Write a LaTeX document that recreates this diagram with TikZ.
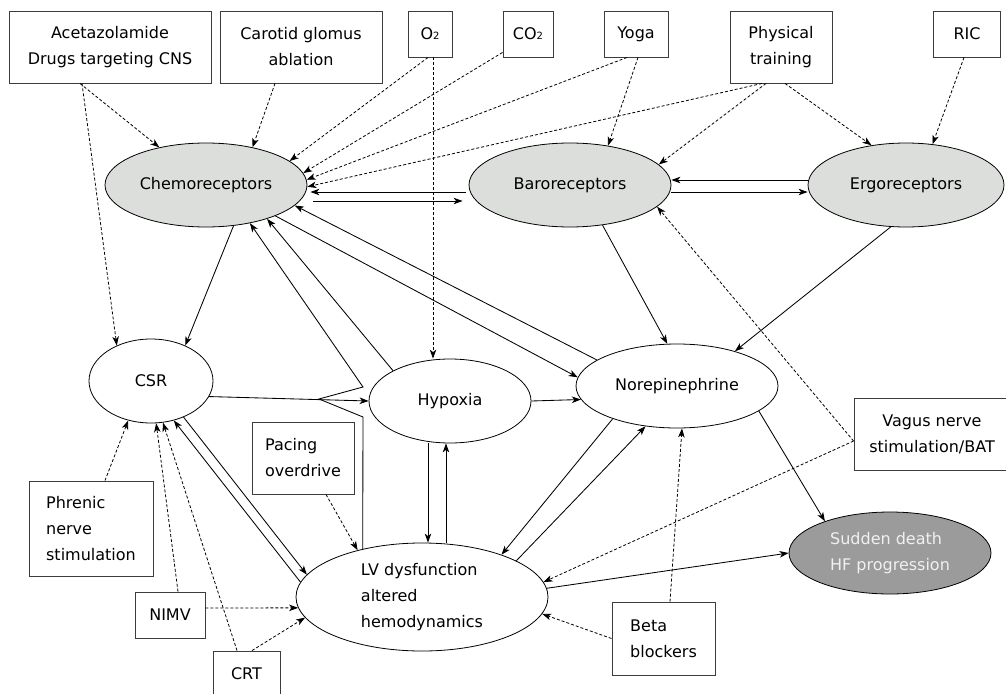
\documentclass[tikz,border=0pt]{standalone}
\usepackage{fontspec}
\setmainfont{DejaVu Sans}
\usetikzlibrary{shapes.geometric,arrows.meta,calc}
\definecolor{boxc}{RGB}{60,60,60}
\definecolor{recepc}{RGB}{220,222,220}
\definecolor{sdfill}{RGB}{155,155,155}
\definecolor{sdtext}{RGB}{240,240,240}
\newcommand\dgfont{\fontsize{16}{26}\selectfont}
\newcommand\subtwo{{\fontsize{10}{10}\selectfont 2}}
\tikzset{
  box/.style={draw=boxc, line width=0.9pt, rectangle, inner sep=0pt, align=center, font=\dgfont},
  ell/.style={draw=black, line width=0.8pt, ellipse, inner sep=0pt, align=center, font=\dgfont},
  recep/.style={ell, fill=recepc},
  tipst/.style={-{Stealth[length=9pt,width=6.5pt,inset=2.5pt]}},
  dsh/.style={line width=0.8pt, dash pattern=on 3pt off 2pt, tipst},
  sol/.style={line width=0.85pt, tipst}
}
\begin{document}
\begin{tikzpicture}[x=1pt,y=-1pt]
\useasboundingbox (0,0) rectangle (1006,693);
\fill[white] (0,0) rectangle (1006,693);
\clip (0,0) rectangle (1006,693);

% top boxes
\node[box,minimum width=202,minimum height=72] (acet) at (110,47) {Acetazolamide\\Drugs targeting CNS};
\node[box,minimum width=162,minimum height=72] (carot) at (301,47) {Carotid glomus\\ablation};
\node[box,minimum width=44,minimum height=46] (otwo) at (430,34) {O\subtwo};
\node[box,minimum width=50,minimum height=46] (cotwo) at (528,34) {CO\subtwo};
\node[box,minimum width=64,minimum height=46] (yoga) at (636,34) {Yoga};
\node[box,minimum width=102,minimum height=72] (phys) at (781,47) {Physical\\training};
\node[box,minimum width=67,minimum height=46] (ric) at (967,34) {RIC};

% receptors
\node[recep,minimum width=202,minimum height=84] (chemo) at (206,185) {Chemoreceptors};
\node[recep,minimum width=202,minimum height=84] (baro) at (570,185) {Baroreceptors};
\node[recep,minimum width=196,minimum height=84] (ergo) at (906,185) {Ergoreceptors};

% middle
\node[ell,minimum width=124,minimum height=84] (csr) at (151,381) {CSR};
\node[ell,minimum width=162,minimum height=84] (hyp) at (450,401) {Hypoxia};
\node[ell,minimum width=202,minimum height=84] (ne) at (677,386) {Norepinephrine};
\node[ell,minimum width=252,minimum height=108,align=left] (lv) at (422,597) {LV dysfunction\\altered\\hemodynamics};
\node[ell,minimum width=202,minimum height=82,fill=sdfill,text=sdtext,align=left] (sd) at (890,553) {Sudden death\\HF progression};

% lower boxes
\node[box,minimum width=102,minimum height=72,align=left] (pace) at (303,458) {Pacing\\overdrive};
\node[box,minimum width=124,minimum height=95,align=left] (phren) at (91,528.5) {Phrenic\\nerve\\stimulation};
\node[box,minimum width=70,minimum height=46] (nimv) at (170,615) {NIMV};
\node[box,minimum width=67,minimum height=46] (crt) at (246.5,674) {CRT};
\node[box,minimum width=156,minimum height=72] (vagus) at (932,434) {Vagus nerve\\stimulation/BAT};
\node[box,minimum width=103,minimum height=73,align=left] (beta) at (663.5,638.5) {Beta\\blockers};

% dashed connectors
\draw[dsh] ([xshift=-30]acet.south) -- (chemo);
\draw[dsh] ([xshift=-28]acet.south) -- (csr.134);
\draw[dsh] ([xshift=-26]carot.south) -- (chemo.39);
\draw[dsh] ([xshift=3]otwo.south) -- ([xshift=3]otwo.south |- hyp.north);
\draw[dsh] ([xshift=-2]otwo.south) -- (chemo.16);
\draw[dsh] ([yshift=5]cotwo.south west) -- (chemo.7);
\draw[dsh] ([xshift=-9]yoga.south) -- (chemo.3);
\draw[dsh] ([xshift=2]yoga.south) -- (baro.46);
\draw[dsh] ([xshift=-19]phys.south) -- (chemo.-1);
\draw[dsh] ([xshift=-15]phys.south) -- (baro.13);
\draw[dsh] ([xshift=4]phys.south) -- (ergo.131);
\draw[dsh] ([xshift=-3]ric.south) -- (ergo.57);
\draw[dsh] ([yshift=-7]vagus.west) -- (baro.-14);
\draw[dsh] ([yshift=-7]vagus.west) -- (lv.7);
\draw[dsh] ([xshift=6.5]beta.north) -- ([xshift=5]ne.south);
\draw[dsh] (beta.west) -- (lv.-8);
\draw[dsh] ([xshift=23]pace.south) -- (lv.144);
\draw[dsh] ([xshift=14]phren.north) -- (csr.-120);
\draw[dsh] ([xshift=8]nimv.north) -- (csr.-83);
\draw[dsh] ([xshift=-9.5]crt.north) -- (csr.-74);
\draw[dsh] ([yshift=7]nimv.east) -- (lv.185);
\draw[dsh] ([xshift=5.5]crt.north) -- (lv.-170);

% solid connectors
\draw[sol] ([shift={(-3,7)}]baro.west) -- ([shift={(3,7)}]chemo.east);
\draw[sol] ([shift={(6,16)}]chemo.east) -- ([shift={(-6,16)}]baro.west);
\draw[sol] ([shift={(0,-5)}]ergo.west) -- ([shift={(0,-5)}]baro.east);
\draw[sol] ([shift={(0,7)}]baro.east) -- ([shift={(0,7)}]ergo.west);
\draw[sol] (chemo.-56) -- (csr.46);
\coordinate (kb) at (363,417);
\coordinate (kj) at (319,399);
\coordinate (kt) at (363,387);
\draw[sol] (lv.141) -- (kb) -- (kj) -- (kt) -- (chemo.-41);
\draw[sol] (csr.-15) -- (hyp.west);
\draw[sol] (hyp.152) -- (chemo.-29);
\draw[sol] (chemo.-24) -- (ne.175);
\draw[sol] (ne.162) -- (chemo.-13);
\draw[sol] (hyp.east) -- (ne.188);
\draw[sol] (baro.-51) -- (ne.103);
\draw[sol] (ergo.-110) -- (ne.31);
\draw[sol] (ne.-17) -- (sd.154);
\draw[sol] (lv.4) -- (sd.west);
\draw[sol] (ne.-153) -- (lv.28);
\draw[sol] (lv.21) -- (ne.-128);
\draw[sol] ([xshift=-22]hyp.south) -- ([xshift=-22]hyp.south |- lv.north);
\draw[sol] ([xshift=-4]hyp.south |- lv.north) -- ([xshift=-4]hyp.south);
\draw[sol] (csr.-48) -- (lv.169);
\draw[sol] (lv.173) -- (csr.-60);
\end{tikzpicture}
\end{document}
